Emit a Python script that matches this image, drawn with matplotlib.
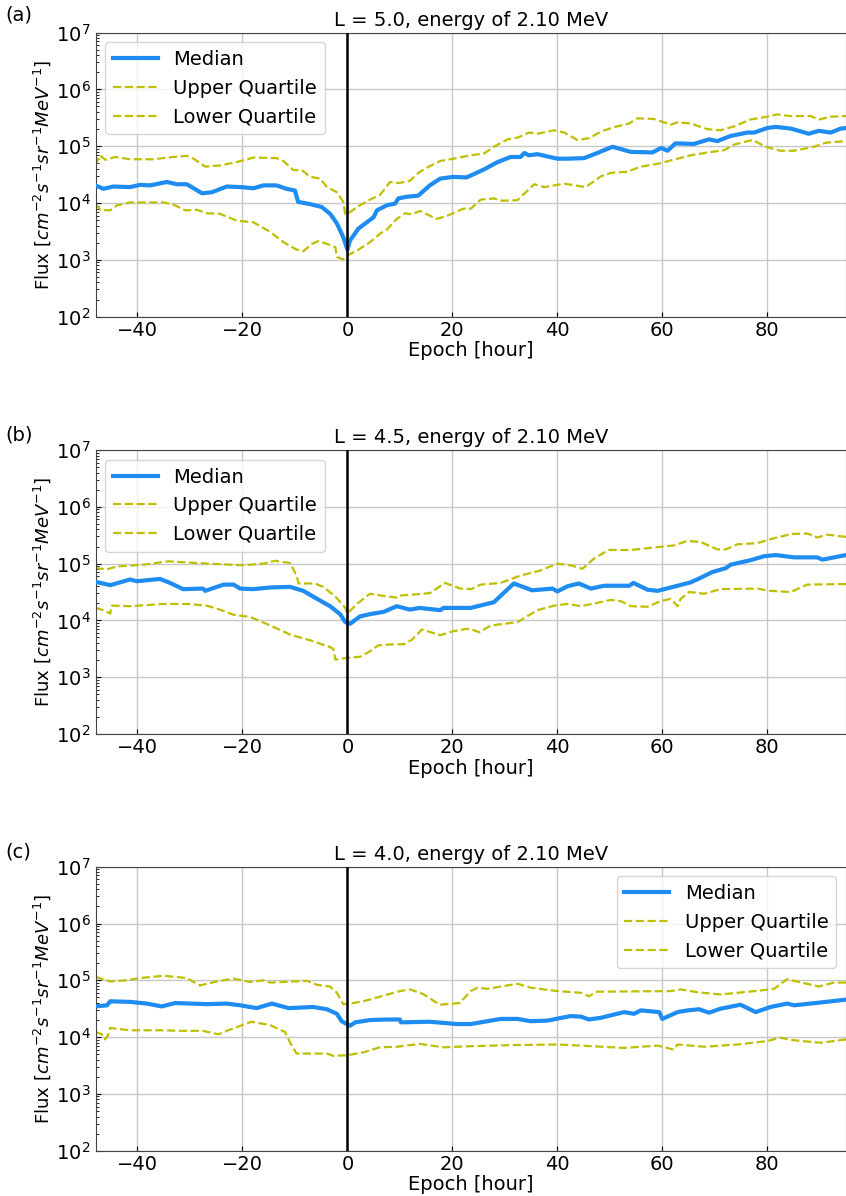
import matplotlib
matplotlib.use("Agg")
import matplotlib.pyplot as plt
import numpy as np

# ---------------- data (log10 of flux) ----------------
titles = ["L = 5.0, energy of 2.10 MeV", "L = 4.5, energy of 2.10 MeV", "L = 4.0, energy of 2.10 MeV"]
panel_labels = ["(a)", "(b)", "(c)"]
legend_labels = ["Median", "Upper Quartile", "Lower Quartile"]
xticks = [-40, -20, 0, 20, 40, 60, 80]

# Panel (a) L = 5.0
a_med_t = [-48, -46.5, -44.6, -41.4, -39.5, -37.6, -34.4, -32.5, -30.6, -29.3, -27.7, -25.8, -23, -20.4, -17.9,
           -16, -13.5, -11.6, -10, -9.4, -7.1, -4.9, -3.3, -2, -0.8, 0, 0.5, 2.1, 3.7, 5, 5.6, 7.5, 9.1, 9.7,
           11.3, 13.5, 15.7, 17.7, 20.2, 22.7, 26, 28.6, 31.1, 33, 33.7, 34.6, 36.2, 40, 41.9, 45.1, 47.6, 50.5,
           54, 58.1, 59.8, 61, 62.5, 66, 68.9, 70.5, 73, 76.2, 77.5, 80, 81.6, 84.5, 87.9, 89.8, 92.1, 94, 95]
a_med_log = [4.31, 4.25, 4.29, 4.28, 4.32, 4.31, 4.37, 4.33, 4.33, 4.26, 4.17, 4.19, 4.29, 4.28, 4.26,
             4.31, 4.31, 4.25, 4.22, 4.02, 3.98, 3.93, 3.81, 3.64, 3.40, 3.18, 3.34, 3.55, 3.66, 3.75, 3.87,
             3.96, 3.99, 4.08, 4.11, 4.13, 4.31, 4.43, 4.46, 4.45, 4.59, 4.72, 4.81, 4.81, 4.88, 4.84, 4.86,
             4.78, 4.78, 4.79, 4.88, 4.99, 4.90, 4.89, 4.97, 4.92, 5.05, 5.04, 5.12, 5.09, 5.18, 5.24, 5.24,
             5.32, 5.34, 5.31, 5.22, 5.27, 5.24, 5.31, 5.32]
a_up_t = [-48, -47.2, -46.1, -44.2, -41.4, -37, -33.2, -30.6, -29.3, -27.1, -24.3, -21.1, -17.9, -13.5, -12.2,
          -10.3, -8.7, -7.1, -5.2, -3.9, -2, -0.8, -0.4, 0, 2.4, 4.3, 6.2, 8.1, 9.7, 11.9, 13.8, 15.7, 17.7,
          20.2, 23.5, 26, 27.9, 30.5, 32.4, 34.6, 36.2, 39.4, 41.3, 43.8, 46, 48.6, 51.4, 53.7, 55.2, 58.4,
          61.6, 62.9, 65.4, 68.6, 71.1, 73.7, 76.8, 79.4, 81.9, 84.5, 88.3, 89.8, 92.1, 95]
a_up_log = [4.66, 4.84, 4.76, 4.81, 4.77, 4.77, 4.81, 4.83, 4.78, 4.64, 4.66, 4.72, 4.80, 4.79, 4.74,
            4.58, 4.58, 4.46, 4.43, 4.28, 4.19, 4.02, 3.80, 3.81, 3.96, 4.06, 4.14, 4.37, 4.35, 4.39,
            4.55, 4.65, 4.74, 4.78, 4.84, 4.87, 4.99, 5.12, 5.15, 5.24, 5.22, 5.28, 5.24, 5.11, 5.14,
            5.27, 5.35, 5.40, 5.49, 5.48, 5.38, 5.42, 5.40, 5.30, 5.28, 5.35, 5.47, 5.51, 5.56, 5.53,
            5.53, 5.47, 5.52, 5.53]
a_lo_t = [-48, -47.1, -45.2, -43.9, -41.4, -35, -33.1, -30.9, -28.7, -26.8, -24.3, -21.1, -17.9, -14.7, -12.2,
          -9.7, -8.4, -6.8, -5.5, -3.6, -2.3, -2, -0.8, 0, 1.8, 4.3, 6.2, 7.5, 9.4, 11, 12.3, 13.8, 17, 18.9,
          22.1, 23.5, 25.4, 27.9, 29.5, 32.4, 34, 35.6, 37.5, 41.3, 45.4, 48.3, 50.2, 53.3, 55.9, 59.1, 62.9,
          65.4, 68, 71.8, 73.7, 77.2, 79.7, 82.5, 85.1, 88.9, 91.1, 95]
a_lo_log = [3.99, 3.88, 3.87, 3.96, 4.01, 4.01, 3.97, 3.87, 3.88, 3.82, 3.81, 3.69, 3.66, 3.49, 3.31,
            3.18, 3.15, 3.28, 3.33, 3.27, 3.22, 3.05, 3.01, 3.08, 3.16, 3.31, 3.46, 3.53, 3.72, 3.82,
            3.80, 3.86, 3.72, 3.77, 3.90, 3.90, 4.06, 4.08, 4.04, 4.05, 4.19, 4.33, 4.28, 4.34, 4.28,
            4.47, 4.53, 4.55, 4.64, 4.69, 4.78, 4.84, 4.88, 4.93, 5.03, 5.11, 4.99, 4.92, 4.92, 4.99,
            5.06, 5.09]

# Panel (b) L = 4.5
b_med_t = [-48, -45.2, -41.4, -40.1, -35.7, -33.8, -31.3, -27.5, -27.1, -23.6, -21.7, -20.4, -17.9, -14.7, -10.9,
           -8.4, -5.8, -3.3, -1.4, -0.4, 0.5, 2.4, 4.3, 6.9, 9.4, 11.9, 13.8, 17.7, 18.3, 23.5, 27.9, 31.7, 35.2,
           39.1, 40, 41.9, 44.1, 46.4, 48.9, 53.7, 54.5, 57.2, 59.1, 62.9, 65.4, 67.3, 69.5, 72.1, 73, 76.8,
           79.4, 81.6, 85.1, 89.5, 90.5, 95]
b_med_log = [4.68, 4.62, 4.72, 4.69, 4.73, 4.66, 4.55, 4.56, 4.52, 4.63, 4.63, 4.56, 4.55, 4.58, 4.59,
             4.52, 4.38, 4.25, 4.11, 3.97, 3.94, 4.07, 4.11, 4.15, 4.25, 4.19, 4.22, 4.18, 4.22, 4.22,
             4.32, 4.65, 4.53, 4.56, 4.51, 4.60, 4.65, 4.56, 4.61, 4.61, 4.66, 4.54, 4.52, 4.61, 4.67,
             4.75, 4.85, 4.92, 4.98, 5.06, 5.13, 5.15, 5.11, 5.11, 5.07, 5.15]
b_up_t = [-48, -45.8, -43.9, -38.9, -34.1, -28.7, -19.8, -16, -13.8, -10.9, -9.7, -9.3, -6.2, -4.6, -2.3,
          -0.4, 0, 1.8, 4.3, 7.5, 9.7, 10.3, 13.2, 15.7, 17, 18.6, 21.5, 23.5, 25.4, 29.2, 33, 36.8, 40, 42.5,
          44.8, 47, 49.8, 54, 59.1, 62.2, 64.8, 67.3, 70.5, 72.1, 74.3, 78.1, 80.6, 84.5, 87.6, 89.5, 91.4, 95]
b_up_log = [4.92, 4.90, 4.95, 4.98, 5.04, 5.01, 4.97, 5.00, 5.05, 5.01, 4.79, 4.65, 4.65, 4.59, 4.42,
            4.22, 4.12, 4.29, 4.47, 4.42, 4.40, 4.44, 4.46, 4.48, 4.56, 4.66, 4.56, 4.55, 4.63, 4.66,
            4.79, 4.88, 5.00, 4.97, 4.91, 5.09, 5.24, 5.24, 5.29, 5.32, 5.40, 5.38, 5.25, 5.25, 5.34,
            5.36, 5.43, 5.52, 5.53, 5.46, 5.51, 5.47]
b_lo_t = [-48, -46.5, -45.2, -44.9, -41.4, -35, -30.6, -26.8, -24.3, -21.7, -18.5, -14.7, -10.9, -7.1, -3.3,
          -2.7, -2.3, -0.1, 2.4, 4, 5.9, 8.8, 10.7, 12.3, 14.2, 17.7, 20.2, 22.7, 23.5, 25.1, 27.3, 32.4, 36.2,
          39.4, 41.9, 44.5, 50.2, 52.1, 54, 57.2, 59.7, 61.6, 62.9, 63.5, 65.1, 68, 71.1, 78.1, 80.6, 84.5,
          87.6, 95]
b_lo_log = [4.22, 4.18, 4.12, 4.26, 4.25, 4.29, 4.29, 4.26, 4.19, 4.10, 4.06, 3.91, 3.75, 3.65, 3.53,
            3.50, 3.31, 3.34, 3.36, 3.44, 3.56, 3.58, 3.58, 3.66, 3.84, 3.74, 3.81, 3.85, 3.85, 3.79,
            3.91, 3.97, 4.18, 4.26, 4.29, 4.25, 4.36, 4.34, 4.25, 4.24, 4.34, 4.38, 4.25, 4.38, 4.50,
            4.47, 4.55, 4.56, 4.52, 4.50, 4.63, 4.64]

# Panel (c) L = 4.0
c_med_t = [-48, -45.8, -45.2, -41.4, -38.2, -35.4, -32.8, -26.8, -23, -20.4, -17.3, -14.4, -11.2, -6.5, -3.9,
           -2, -1.1, 0.5, 1.5, 4.3, 7.5, 10, 10.2, 15.7, 20.8, 23.5, 26.7, 29.2, 32.4, 34.9, 38.1, 42.5, 44.5,
           46, 48.3, 52.7, 54.6, 55.9, 59.4, 60, 62.9, 64.8, 67, 68.9, 71.1, 74.9, 77.8, 80.6, 83.8, 85.1,
           90.2, 95]
c_med_log = [4.54, 4.56, 4.63, 4.62, 4.59, 4.54, 4.60, 4.58, 4.59, 4.56, 4.51, 4.59, 4.51, 4.53, 4.49,
             4.41, 4.28, 4.20, 4.26, 4.30, 4.31, 4.31, 4.26, 4.27, 4.23, 4.23, 4.28, 4.32, 4.32, 4.28,
             4.29, 4.37, 4.36, 4.31, 4.34, 4.44, 4.41, 4.47, 4.44, 4.32, 4.44, 4.47, 4.49, 4.43, 4.50,
             4.57, 4.44, 4.53, 4.59, 4.56, 4.61, 4.66]
c_up_t = [-48, -45.2, -42, -39.5, -35, -30.6, -28.1, -24.9, -21.7, -18.5, -16, -14.7, -7.7, -5.8, -3.3,
          -2, -0.8, 0.5, 3, 6.9, 10, 11.9, 14.4, 17.6, 21.4, 23.5, 24.8, 26.7, 32.4, 34.9, 40, 44.5, 46, 47.6,
          61.6, 63.5, 66.7, 71.1, 74.3, 78.7, 81.3, 83.8, 87, 89.8, 92.7, 95]
c_up_log = [5.06, 4.98, 5.00, 5.04, 5.08, 5.04, 4.91, 4.98, 5.03, 4.97, 5.00, 4.96, 4.99, 4.92, 4.89,
            4.78, 4.58, 4.59, 4.63, 4.73, 4.81, 4.84, 4.76, 4.57, 4.60, 4.81, 4.87, 4.85, 4.94, 4.87,
            4.81, 4.78, 4.72, 4.80, 4.81, 4.84, 4.79, 4.75, 4.78, 4.82, 4.85, 5.02, 4.95, 4.89, 4.96, 4.96]
c_lo_t = [-48, -46.8, -46.2, -45.5, -45.2, -41.4, -35, -31.9, -27.5, -24.6, -22.4, -18.3, -14.7, -11.9, -10.9,
          -9.7, -3.9, -2.7, -0.1, 3, 6.2, 9.4, 13.8, 18.3, 23.5, 31.7, 40, 44.5, 52.7, 59.1, 62.2, 62.9, 68,
          74.3, 80, 82.5, 84.5, 90.2, 95]
c_lo_log = [4.09, 4.05, 3.96, 4.05, 4.16, 4.12, 4.12, 4.11, 4.11, 4.05, 4.13, 4.27, 4.21, 4.09, 3.90,
            3.71, 3.71, 3.67, 3.68, 3.73, 3.82, 3.83, 3.88, 3.82, 3.84, 3.86, 3.87, 3.85, 3.81, 3.85,
            3.78, 3.87, 3.83, 3.87, 3.93, 3.99, 3.95, 3.90, 3.96]

panels = [
    (a_med_t, a_med_log, a_up_t, a_up_log, a_lo_t, a_lo_log),
    (b_med_t, b_med_log, b_up_t, b_up_log, b_lo_t, b_lo_log),
    (c_med_t, c_med_log, c_up_t, c_up_log, c_lo_t, c_lo_log),
]
legend_locs = ["upper left", "upper left", "upper right"]

# ---------------- figure ----------------
W, H = 846, 1196
fig = plt.figure(figsize=(W / 100, H / 100), dpi=100)
plt.rcParams["font.family"] = ["DejaVu Sans"]

ax_left = 95.5 / W
ax_width = 1.0 - ax_left
ax_h = 284.0 / H
tops_px = [32.6, 450.0, 866.7]
label_y_px = [15, 435, 852]

median_color = "#1E8CF0"
quart_color = (0.75, 0.75, 0.0)
fs = 14

for i, (mt, ml, ut, ul, lt, ll) in enumerate(panels):
    bottom = 1 - (tops_px[i] + 284.0) / H
    ax = fig.add_axes([ax_left, bottom, ax_width, ax_h])
    ax.plot(mt, 10 ** np.asarray(ml), color=median_color, lw=3.0, label=legend_labels[0], zorder=3)
    ax.plot(ut, 10 ** np.asarray(ul), color=quart_color, lw=1.6, ls="--", label=legend_labels[1], zorder=2)
    ax.plot(lt, 10 ** np.asarray(ll), color=quart_color, lw=1.6, ls="--", label=legend_labels[2], zorder=2)
    ax.axvline(0, color="black", lw=1.8, zorder=4)
    ax.set_yscale("log")
    ax.set_ylim(1e2, 1e7)
    ax.set_xlim(-48, 95)
    ax.set_xticks(xticks)
    ax.grid(True, which="major", color="#c8c8c8", lw=1.0)
    ax.set_axisbelow(True)
    ax.tick_params(direction="in", labelsize=fs, which="both")
    ax.tick_params(axis="x", pad=3)
    for s in ax.spines.values():
        s.set_color("#444444")
    ax.set_title(titles[i], fontsize=fs, pad=5)
    ax.set_xlabel("Epoch [hour]", fontsize=fs, labelpad=1)
    ax.set_ylabel(r"Flux $[cm^{-2}s^{-1}sr^{-1}MeV^{-1}]$", fontsize=13, labelpad=2)
    ax.legend(loc=legend_locs[i], fontsize=fs, handlelength=2.3)
    fig.text(5 / W, 1 - label_y_px[i] / H, panel_labels[i], fontsize=fs, va="center", ha="left")

fig.savefig("out.png", dpi=100)
